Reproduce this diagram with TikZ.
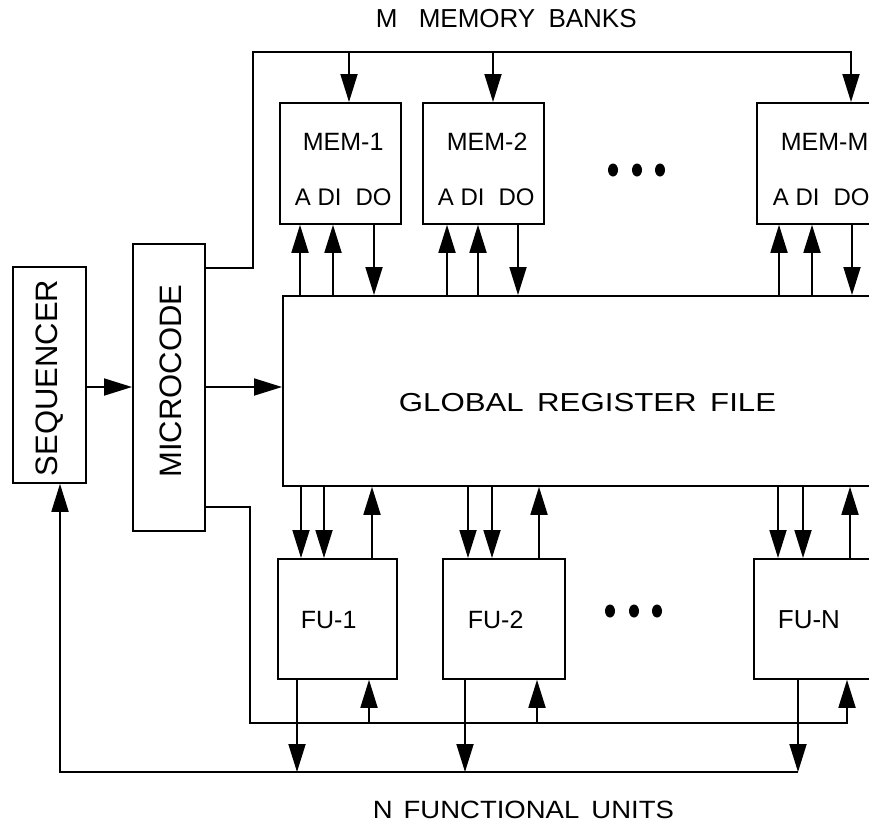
\documentclass[tikz,border=0pt]{standalone}
\usepackage{fontspec}
\setmainfont{Liberation Sans}
\usetikzlibrary{arrows.meta}
\newcommand\myfs[1]{\fontsize{#1}{#1}\selectfont}
\begin{document}
\begin{tikzpicture}[x=1pt,y=-1pt,line width=1.8pt,
  blk/.style={draw,line width=1.8pt,inner sep=0pt,anchor=north west},
  lbl/.style={inner sep=0pt,anchor=west},
  arr/.style={-{Triangle[length=28pt,width=17pt]}},
  dot/.style={fill=black,draw=none}]
\useasboundingbox (0,0) rectangle (869,825);
\clip (0,0) rectangle (869,825);
% blocks
\node[blk,minimum width=73pt,minimum height=216pt] (seq) at (12,266) {};
\node[blk,minimum width=72pt,minimum height=287pt] (mic) at (132,243) {};
\node[blk,minimum width=121pt,minimum height=121pt] (mem1) at (279,102) {};
\node[blk,minimum width=121pt,minimum height=121pt] (mem2) at (422,102) {};
\node[blk,minimum width=121pt,minimum height=121pt] (memM) at (756,102) {};
\node[blk,minimum width=640pt,minimum height=190pt] (grf) at (282,295) {};
\node[blk,minimum width=119pt,minimum height=120pt] (fu1) at (277,558) {};
\node[blk,minimum width=122pt,minimum height=120pt] (fu2) at (442,558) {};
\node[blk,minimum width=122pt,minimum height=120pt] (fuN) at (753,558) {};
% labels
\node[inner sep=0pt,rotate=90] (seqt) at (50,378) {\myfs{31}SEQUENCER};
\node[inner sep=0pt,rotate=90] (mict) at (171,381) {\myfs{31}MICROCODE};
\node[lbl] (mem1t) at (302,142) {\myfs{25}MEM-1};
\node[lbl] (mem2t) at (446,142) {\myfs{25}MEM-2};
\node[lbl] (memMt) at (780,142) {\myfs{25}MEM-M};
\node[lbl] (mem1p) at (294,197) {\myfs{24}A DI\hspace{14pt}DO};
\node[lbl] (mem2p) at (437,197) {\myfs{24}A DI\hspace{14pt}DO};
\node[lbl] (memMp) at (772,197) {\myfs{24}A DI\hspace{14pt}DO};
\node[lbl] (grft) at (398,403) {\scalebox{1.2}[1]{\myfs{26}GLOBAL\hspace{4pt} REGISTER\hspace{4pt} FILE}};
\node[lbl] (fu1t) at (300,620) {\myfs{25}FU-1};
\node[lbl] (fu2t) at (467,620) {\myfs{25}FU-2};
\node[lbl] (fuNt) at (777,620) {\myfs{26}FU-N};
\node[lbl] (topt) at (375,19) {\myfs{26}M\hspace{14pt} MEMORY\hspace{6pt} BANKS};
\node[lbl] (bott) at (372,810) {\scalebox{1.1}[1]{\myfs{25}N\hspace{3pt} FUNCTIONAL\hspace{4pt} UNITS}};
% ellipsis dots
\foreach \x in {613,637,660} \fill[dot] (\x,170) ellipse [x radius=5pt,y radius=6.5pt];
\foreach \x in {610,634,657} \fill[dot] (\x,611) ellipse [x radius=5pt,y radius=6.5pt];
% sequencer -> microcode -> GRF
\draw[arr] (seq.east |- 0,387) -- (mic.west |- 0,387);
\draw[arr] (mic.east |- 0,387) -- (grf.west |- 0,387);
% address bus to memories
\coordinate (tb) at (253,52);
\draw[arr] (mic.east |- 0,268) -| (tb) -| (memM.north -| 851,0);
\draw[arr] (349,52) -- (mem1.north -| 349,0);
\draw[arr] (493,52) -- (mem2.north -| 493,0);
% memory <-> GRF
\foreach \m/\a/\d/\o in {mem1/300/333/374, mem2/447/478/518, memM/779/812/852}{
  \draw[arr] (grf.north -| \a,0) -- (\m.south -| \a,0);
  \draw[arr] (grf.north -| \d,0) -- (\m.south -| \d,0);
  \draw[arr] (\m.south -| \o,0) -- (grf.north -| \o,0);
}
% GRF <-> FUs
\foreach \f/\p/\q/\r in {fu1/301/324/372, fu2/468/492/539, fuN/778/803/850}{
  \draw[arr] (grf.south -| \p,0) -- (\f.north -| \p,0);
  \draw[arr] (grf.south -| \q,0) -- (\f.north -| \q,0);
  \draw[arr] (\f.north -| \r,0) -- (grf.south -| \r,0);
}
% control bus to FUs
\coordinate (cb) at (250,723);
\draw[arr] (mic.east |- 0,507) -| (cb) -| (fuN.south -| 847,0);
\draw[arr] (369,723) -- (fu1.south -| 369,0);
\draw[arr] (537,723) -- (fu2.south -| 537,0);
% FU outputs and feedback to sequencer
\draw[arr] (fu1.south -| 297,0) -- (297,772);
\draw[arr] (fu2.south -| 465,0) -- (465,772);
\draw[arr] (fuN.south -| 798,0) -- (798,772);
\draw[arr] (798,772) -| (seq.south -| 60,0);
\end{tikzpicture}
\end{document}
